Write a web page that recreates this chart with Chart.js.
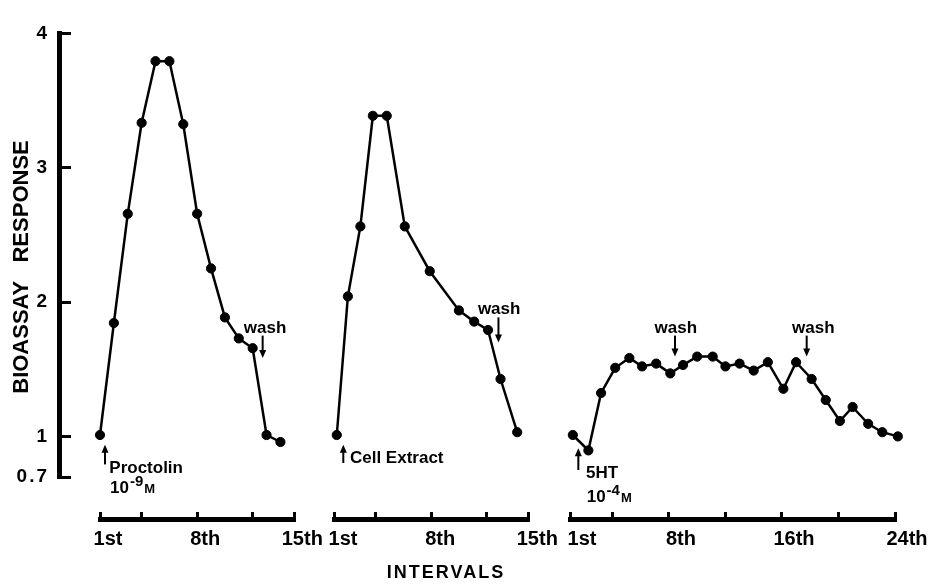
<!DOCTYPE html>
<html>
<head>
<meta charset="utf-8">
<script src="https://cdn.jsdelivr.net/npm/chart.js@4.4.0/dist/chart.umd.min.js"></script>
<style>
  html, body { margin: 0; padding: 0; background: #fff; overflow: hidden; }
  #wrap { position: relative; width: 933px; height: 588px; }
  #wrap canvas { position: absolute; left: 0; top: 0; }
</style>
</head>
<body>
<div id="wrap">
  <canvas id="axisY" width="933" height="588"></canvas>
  <canvas id="panel1" width="933" height="588"></canvas>
  <canvas id="panel2" width="933" height="588"></canvas>
  <canvas id="panel3" width="933" height="588"></canvas>
</div>
<script>
var yTicks = [0.7, 1, 2, 3, 4];

// proctolin 10^-9 M
var p1Int = [1, 2, 3, 4, 5, 6, 7, 8, 9, 10, 11, 12, 13, 14];
var p1Resp = [1.0, 1.80, 2.58, 3.23, 3.67, 3.67, 3.22, 2.58, 2.19, 1.84, 1.69, 1.62, 1.0, 0.95];

// cell extract
var p2Int = [1.2, 2.0, 2.9, 3.8, 4.8, 6.1, 7.9, 10.0, 11.1, 12.1, 13.0, 14.2];
var p2Resp = [1.0, 1.99, 2.49, 3.28, 3.28, 2.49, 2.17, 1.89, 1.81, 1.75, 1.40, 1.02];

// 5HT 10^-4 M
var p3Int = [1.2, 2.3, 3.2, 4.2, 5.2, 6.1, 7.1, 8.1, 9.0, 10.0, 11.1, 12.0,
             13.0, 14.0, 15.0, 16.1, 17.0, 18.1, 19.1, 20.1, 21.0, 22.1, 23.1, 24.2];
var p3Resp = [1.0, 0.89, 1.30, 1.48, 1.55, 1.49, 1.51, 1.44, 1.50, 1.56, 1.56, 1.49,
              1.51, 1.46, 1.52, 1.33, 1.52, 1.40, 1.25, 1.10, 1.20, 1.08, 1.02, 0.99];

var shortTicks = [1, 4, 8, 12, 15];
var shortNames = {1: '1st', 8: '8th', 15: '15th'};
var longTicks = [1, 4, 8, 12, 16, 20, 24];
var longNames = {1: '1st', 8: '8th', 16: '16th', 24: '24th'};

var p1Notes = {
  arrows: [{x: 12.72, from: 1.71, to: 1.55}, {x: 1.36, from: 0.79, to: 0.93}],
  labels: [{x: 12.89, y: 1.73, text: 'wash', align: 'center'},
           {x: 1.67, y: 0.73, text: 'Proctolin'},
           {x: 1.72, y: 0.586, text: '10', sup: '-9', tail: 'M'}]
};
var p2Notes = {
  arrows: [{x: 12.85, from: 1.84, to: 1.66}, {x: 1.67, from: 0.80, to: 0.93}],
  labels: [{x: 12.9, y: 1.864, text: 'wash', align: 'center'},
           {x: 2.15, y: 0.80, text: 'Cell Extract'}]
};
var p3Notes = {
  arrows: [{x: 8.43, from: 1.71, to: 1.56}, {x: 17.75, from: 1.71, to: 1.56}, {x: 1.59, from: 0.75, to: 0.905}],
  labels: [{x: 8.49, y: 1.73, text: 'wash', align: 'center'},
           {x: 18.22, y: 1.73, text: 'wash', align: 'center'},
           {x: 2.13, y: 0.69, text: '5HT'},
           {x: 2.18, y: 0.524, text: '10', sup: '-4', tail: 'M'}]
};

var FONT = "'Liberation Sans', Arial, sans-serif";
Chart.defaults.font.family = FONT;
Chart.defaults.color = '#000';

var notesPlugin = {
  id: 'notes',
  afterDatasetsDraw: function(chart, args, opts) {
    var ctx = chart.ctx, xs = chart.scales.x, ys = chart.scales.y;
    ctx.save();
    ctx.fillStyle = '#000';
    ctx.strokeStyle = '#000';
    ctx.lineWidth = 2;
    (opts.arrows || []).forEach(function(a) {
      var px = xs.getPixelForValue(a.x);
      var y0 = ys.getPixelForValue(a.from), y1 = ys.getPixelForValue(a.to);
      var dir = y1 < y0 ? -1 : 1;
      ctx.beginPath();
      ctx.moveTo(px, y0);
      ctx.lineTo(px, y1 - dir * 6);
      ctx.stroke();
      ctx.beginPath();
      ctx.moveTo(px, y1);
      ctx.lineTo(px - 3.5, y1 - dir * 8);
      ctx.lineTo(px + 3.5, y1 - dir * 8);
      ctx.closePath();
      ctx.fill();
    });
    (opts.labels || []).forEach(function(l) {
      var px = xs.getPixelForValue(l.x), py = ys.getPixelForValue(l.y);
      ctx.font = 'bold 17px ' + FONT;
      ctx.textBaseline = 'alphabetic';
      ctx.textAlign = l.align || 'left';
      ctx.fillText(l.text, px, py);
      if (l.sup) {
        var w = ctx.measureText(l.text).width;
        ctx.textAlign = 'left';
        ctx.font = 'bold 15px ' + FONT;
        ctx.fillText(l.sup, px + w + 1, py - 7);
        var w2 = ctx.measureText(l.sup).width;
        ctx.font = 'bold 13px ' + FONT;
        ctx.fillText(l.tail, px + w + w2 + 2, py);
      }
    });
    ctx.restore();
  }
};

// left axis only: 0.7 .. 4, plus the shared "INTERVALS" title
new Chart(document.getElementById('axisY'), {
  type: 'scatter',
  data: { datasets: [] },
  options: {
    responsive: false, animation: false, events: [],
    layout: { padding: { left: 0, right: 100, top: 15, bottom: 0 } },
    plugins: { legend: { display: false }, tooltip: { enabled: false } },
    scales: {
      x: {
        min: 0, max: 1,
        afterFit: function(s) { s.height = 111; },
        ticks: { display: false },
        grid: { display: false },
        border: { display: false },
        title: { display: true, text: 'INTERVALS', font: { size: 18, weight: 'bold' }, padding: { top: 0, bottom: 4 } }
      },
      y: {
        min: 0.7, max: 4,
        afterBuildTicks: function(s) { s.ticks = yTicks.map(function(v) { return {value: v}; }); },
        afterFit: function(s) { s.width = 59; },
        border: { display: true, width: 5, color: '#000' },
        grid: { drawOnChartArea: false, tickLength: -12, tickWidth: 3, tickColor: '#000' },
        ticks: { padding: 22, font: { size: 19, weight: 'bold' },
                 callback: function(v) { return v === 0.7 ? '0.7' : String(v); } }
      }
    }
  },
  plugins: [{ id: 'spacing', beforeDraw: function(c) { c.ctx.letterSpacing = '2px'; } }]
});

function makePanel(id, ints, resp, ticks, names, left, right, shift, notes, withTitle) {
  var pts = ints.map(function(v, i) { return {x: v, y: resp[i]}; });
  return new Chart(document.getElementById(id), {
    type: 'scatter',
    data: {
      datasets: [{
        data: pts,
        showLine: true,
        clip: false,
        borderColor: '#000',
        backgroundColor: '#000',
        borderWidth: 2.5,
        pointRadius: 4.6,
        pointHoverRadius: 4.6,
        pointBackgroundColor: '#000',
        pointBorderColor: '#000',
        pointBorderWidth: 1
      }]
    },
    options: {
      responsive: false, animation: false, events: [],
      layout: { padding: { left: 0, right: 933 - right, top: 15, bottom: 0 } },
      plugins: { legend: { display: false }, tooltip: { enabled: false }, notes: notes },
      scales: {
        x: {
          type: 'linear',
          min: ticks[0], max: ticks[ticks.length - 1],
          afterBuildTicks: function(s) { s.ticks = ticks.map(function(v) { return {value: v}; }); },
          afterFit: function(s) { s.height = 69; },
          border: { display: true, width: 5, color: '#000' },
          grid: { drawOnChartArea: false, tickLength: -7, tickWidth: 3, tickColor: '#000' },
          ticks: { autoSkip: false, maxRotation: 0, padding: 15, labelOffset: shift,
                   font: { size: 20, weight: 'bold' },
                   callback: function(v) { return names[v] || ''; } }
        },
        y: {
          min: 0.4, max: 4,
          afterFit: function(s) { s.width = left; },
          ticks: { display: false },
          grid: { display: false },
          border: { display: false },
          title: { display: withTitle, text: 'BIOASSAY   RESPONSE', font: { size: 22, weight: 'bold' },
                   padding: { top: 9, bottom: 0 } }
        }
      }
    },
    plugins: [notesPlugin]
  });
}

makePanel('panel1', p1Int, p1Resp, shortTicks, shortNames, 100, 294.3, 8, p1Notes, true);
makePanel('panel2', p2Int, p2Resp, shortTicks, shortNames, 334, 528.3, 9, p2Notes, false);
makePanel('panel3', p3Int, p3Resp, longTicks, longNames, 570, 895, 12, p3Notes, false);
</script>
</body>
</html>
